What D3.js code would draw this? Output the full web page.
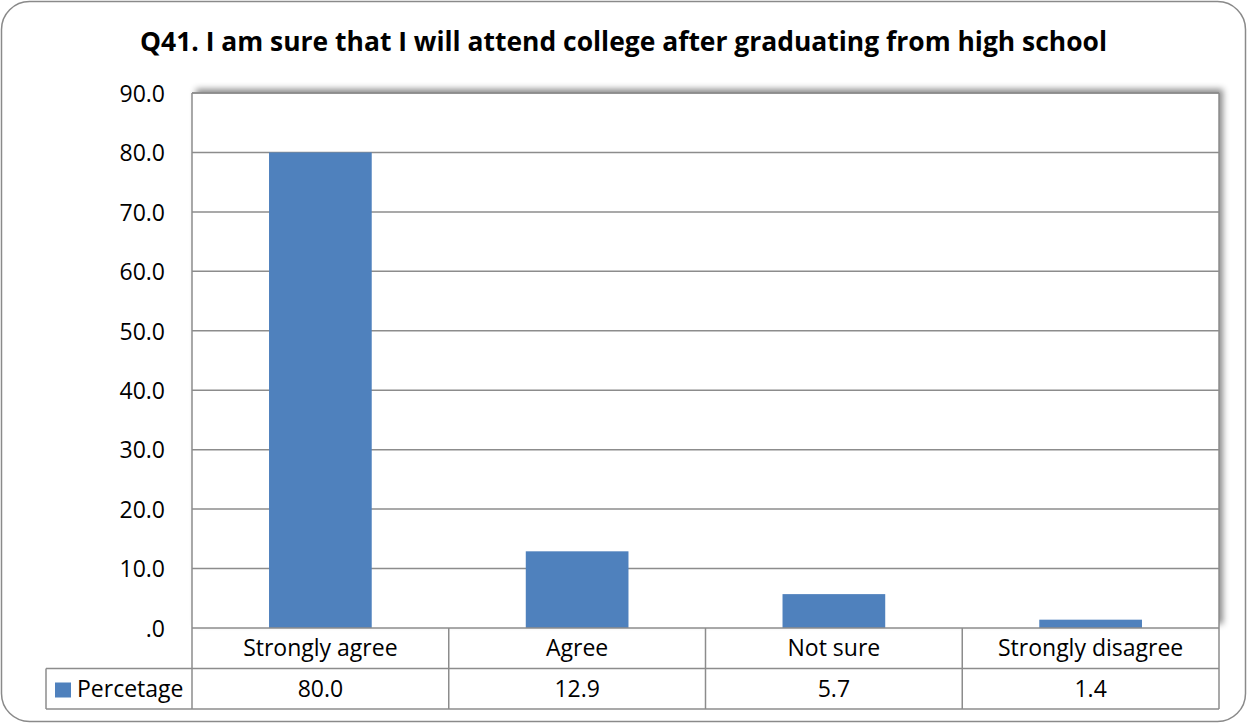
<!DOCTYPE html>
<html>
<head>
<meta charset="utf-8">
<script src="https://cdn.jsdelivr.net/npm/d3@7"></script>
<style>
  html, body { margin: 0; padding: 0; background: #fff; }
  svg { display: block; }
  text { font-family: "Open Sans", "Noto Sans", sans-serif; fill: #000; }
</style>
</head>
<body>
<svg id="chart" width="1247" height="723"></svg>
<script>
// Survey responses (percent)
const categories = ["Strongly agree", "Agree", "Not sure", "Strongly disagree"];
const seriesName = "Percetage";
const values = [80.0, 12.9, 5.7, 1.4];
const yTicks = [0, 10, 20, 30, 40, 50, 60, 70, 80, 90];
const title = "Q41. I am sure that I will attend college after graduating from high school";

const W = 1247, H = 723;
const plot = { left: 192, right: 1219, top: 93, bottom: 628 };
const rowH = 40.5;
const legendLeft = 46;
const barColor = "#4F81BD";
const lineColor = "#8c8c8c";
const fontSize = 23;

const svg = d3.select("#chart");

// Drop shadow for the plot area
const defs = svg.append("defs");
const f = defs.append("filter").attr("id", "shadow")
  .attr("x", "-5%").attr("y", "-10%").attr("width", "110%").attr("height", "120%");
f.append("feDropShadow").attr("dx", 4).attr("dy", -4)
  .attr("stdDeviation", 3).attr("flood-color", "#000").attr("flood-opacity", 0.45);

// Outer frame
svg.append("rect")
  .attr("x", 1.5).attr("y", 1.5).attr("width", W - 3).attr("height", H - 3)
  .attr("rx", 28).attr("ry", 28)
  .attr("fill", "#fff").attr("stroke", "#8a8a8a").attr("stroke-width", 1.5);

// Title
svg.append("text")
  .attr("x", 623.5).attr("y", 51)
  .attr("text-anchor", "middle")
  .attr("font-weight", "bold")
  .attr("font-size", 26.5)
  .attr("textLength", 967)
  .attr("lengthAdjust", "spacingAndGlyphs")
  .text(title);

const x = d3.scaleBand().domain(categories).range([plot.left, plot.right]).paddingInner(0).paddingOuter(0);
const y = d3.scaleLinear().domain([0, 90]).range([plot.bottom, plot.top]);

// Plot background with shadow
svg.append("rect")
  .attr("x", plot.left).attr("y", plot.top)
  .attr("width", plot.right - plot.left).attr("height", plot.bottom - plot.top)
  .attr("fill", "#fff").attr("filter", "url(#shadow)");

// Gridlines
svg.append("g").selectAll("line").data(yTicks.filter(d => d > 0)).join("line")
  .attr("x1", plot.left).attr("x2", plot.right)
  .attr("y1", d => y(d)).attr("y2", d => y(d))
  .attr("stroke", lineColor).attr("stroke-width", 1.5);

// Y axis labels
const yAxis = d3.axisLeft(y).tickValues(yTicks).tickSize(0).tickPadding(0)
  .tickFormat(d => d === 0 ? ".0" : d3.format(".1f")(d));
const ya = svg.append("g").attr("transform", `translate(${plot.left - 27},0)`).call(yAxis);
ya.select(".domain").remove();
ya.selectAll("text").attr("font-size", fontSize).attr("font-family", "'Open Sans', sans-serif")
  .attr("fill", "#000").attr("dy", "0.36em");

// Bars
const barW = x.bandwidth() * 0.4;
svg.append("g").selectAll("rect").data(values).join("rect")
  .attr("x", (d, i) => x(categories[i]) + (x.bandwidth() - barW) / 2)
  .attr("y", d => y(d))
  .attr("width", barW)
  .attr("height", d => y(0) - y(d))
  .attr("fill", barColor);

// Plot borders
svg.append("line").attr("x1", plot.left).attr("x2", plot.left)
  .attr("y1", plot.top).attr("y2", plot.bottom)
  .attr("stroke", lineColor).attr("stroke-width", 1.5);
svg.append("line").attr("x1", plot.left).attr("x2", plot.right)
  .attr("y1", plot.top).attr("y2", plot.top)
  .attr("stroke", lineColor).attr("stroke-width", 1.5);
svg.append("line").attr("x1", plot.right).attr("x2", plot.right)
  .attr("y1", plot.top).attr("y2", plot.bottom)
  .attr("stroke", lineColor).attr("stroke-width", 1.5);

// Data table below the axis
const t = svg.append("g").attr("stroke", lineColor).attr("stroke-width", 1.5);
const r0 = plot.bottom, r1 = plot.bottom + rowH, r2 = plot.bottom + 2 * rowH;
t.append("line").attr("x1", plot.left).attr("x2", plot.right).attr("y1", r0).attr("y2", r0);
t.append("line").attr("x1", legendLeft).attr("x2", plot.right).attr("y1", r1).attr("y2", r1);
t.append("line").attr("x1", legendLeft).attr("x2", plot.right).attr("y1", r2).attr("y2", r2);
t.append("line").attr("x1", legendLeft).attr("x2", legendLeft).attr("y1", r1).attr("y2", r2);
const bounds = categories.map(c => x(c)).concat([plot.right]);
t.selectAll("line.v").data(bounds).join("line").attr("class", "v")
  .attr("x1", d => d).attr("x2", d => d).attr("y1", r0).attr("y2", r2);

svg.append("g").selectAll("text").data(categories).join("text")
  .attr("x", d => x(d) + x.bandwidth() / 2).attr("y", r0 + 28)
  .attr("text-anchor", "middle").attr("font-size", fontSize)
  .text(d => d);

svg.append("g").selectAll("text").data(values).join("text")
  .attr("x", (d, i) => x(categories[i]) + x.bandwidth() / 2).attr("y", r1 + 28.5)
  .attr("text-anchor", "middle").attr("font-size", fontSize)
  .text(d => d3.format(".1f")(d));

// Legend key inside the table
svg.append("rect").attr("x", 55).attr("y", r1 + 14).attr("width", 16).attr("height", 15).attr("fill", barColor);
svg.append("text").attr("x", 77).attr("y", r1 + 28.5).attr("font-size", fontSize).text(seriesName);
</script>
</body>
</html>
